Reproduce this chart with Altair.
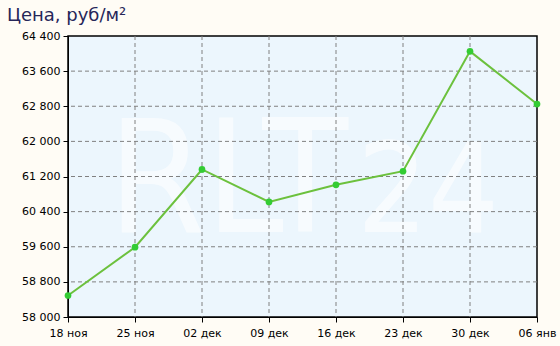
import altair as alt
import pandas as pd

dates = ["18 ноя", "25 ноя", "02 дек", "09 дек", "16 дек", "23 дек", "30 дек", "06 янв"]
prices = [58490, 59590, 61360, 60620, 61010, 61320, 64050, 62850]
y_ticks = [58000, 58800, 59600, 60400, 61200, 62000, 62800, 63600, 64400]

df = pd.DataFrame({"date": dates, "price": prices})
df_y = pd.DataFrame({"price": y_ticks[1:-1]})
df_x = pd.DataFrame({"date": dates[1:-1]})

W, H = 469, 281
font = "DejaVu Sans"
wm_font = "DejaVu Sans Condensed, Roboto, Liberation Sans, sans-serif"
xscale = alt.Scale(type="point", padding=0, domain=dates)
yscale = alt.Scale(domain=[58000, 64400], nice=False, zero=False)

x_axis = alt.Axis(labelAngle=0, labelFont=font, labelFontSize=11, labelColor="#000000",
                  domainColor="#000000", tickColor="#000000", tickSize=5,
                  labelPadding=5, grid=False, labelOverlap=False)
y_axis = alt.Axis(values=y_ticks, labelFont=font, labelFontSize=11, labelColor="#000000",
                  labelExpr="replace(format(datum.value, ',d'), ',', ' ')",
                  domainColor="#000000", tickColor="#000000", tickSize=5,
                  labelPadding=3, grid=False, labelOverlap=False)

x_enc = alt.X("date:O", sort=dates, title=None, scale=xscale, axis=x_axis)
y_enc = alt.Y("price:Q", title=None, scale=yscale, axis=y_axis)

wm1 = alt.Chart(pd.DataFrame({"t": ["RLT"]})).mark_text(
    font=wm_font, fontSize=156, color="#ffffff", opacity=0.6,
    align="center", baseline="alphabetic"
).encode(text="t:N", x=alt.value(160), y=alt.value(196))
wm2 = alt.Chart(pd.DataFrame({"t": ["24"]})).mark_text(
    font=wm_font, fontSize=124, color="#ffffff", opacity=0.6,
    align="center", baseline="alphabetic"
).encode(text="t:N", x=alt.value(360), y=alt.value(196))

hgrid = alt.Chart(df_y).mark_rule(color="#808080", strokeDash=[4, 3], strokeWidth=1).encode(y=y_enc)
vgrid = alt.Chart(df_x).mark_rule(color="#808080", strokeDash=[4, 3], strokeWidth=1).encode(x=x_enc)

line = alt.Chart(df).mark_line(color="#6cc13d", strokeWidth=2).encode(x=x_enc, y=y_enc)
points = alt.Chart(df).mark_circle(color="#33cc33", size=45, opacity=1).encode(x=x_enc, y=y_enc)

chart = alt.layer(wm1, wm2, hgrid, vgrid, line, points).properties(
    width=W, height=H,
    background="#fffcf5",
    padding={"left": 68, "top": 36, "right": 23, "bottom": 29},
    autosize=alt.AutoSizeParams(type="none"),
    title=alt.TitleParams("Цена, руб/м²", anchor="start", frame="group", font=font, fontSize=18,
                          fontWeight="normal", color="#262659", offset=5, dx=-61),
).configure_view(fill="#ecf6fd", stroke="#000000", strokeWidth=1.5)

chart.save("out.html", embed_options={"renderer": "svg", "actions": False})
